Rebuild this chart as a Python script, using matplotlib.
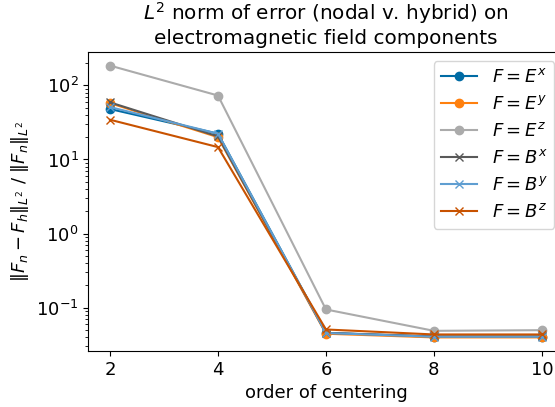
import matplotlib

matplotlib.use("Agg")
import matplotlib.pyplot as plt

plt.style.use("tableau-colorblind10")
plt.rcParams["font.size"] = 13

orders = [2, 4, 6, 8, 10]
labels = [r"$F = E^x$", r"$F = E^y$", r"$F = E^z$", r"$F = B^x$", r"$F = B^y$", r"$F = B^z$"]
markers = ["o", "o", "o", "x", "x", "x"]

err_ex = [48, 22.3, 0.0457, 0.0405, 0.0405]
err_ey = [57.6, 20, 0.0445, 0.0397, 0.0397]
err_ez = [185, 73, 0.0946, 0.0487, 0.0497]
err_bx = [59, 20.5, 0.0457, 0.041, 0.041]
err_by = [51, 22.3, 0.0455, 0.0405, 0.0405]
err_bz = [34.4, 14.7, 0.0508, 0.0435, 0.0435]

series = [err_ex, err_ey, err_ez, err_bx, err_by, err_bz]

fig = plt.figure(figsize=(5.55, 4.07), dpi=100)
# the axes run past the right edge of the picture, as in the reference
ax = fig.add_axes([0.1593, 0.1376, 0.856, 0.7346])
for values, label, marker in zip(series, labels, markers):
    ax.plot(orders, values, marker=marker, label=label)
ax.set_yscale("log")
ax.set_xticks(orders)
ax.set_xlabel("order of centering")
ax.set_ylabel(r"$\|F_n - F_h\|_{L^2}$ / $\|F_n\|_{L^2}$")
ax.set_title("$L^2$ norm of error (nodal v. hybrid) on\nelectromagnetic field components", fontsize=14.4)
ax.legend(loc="upper right")
fig.savefig("out.png", dpi=100)
